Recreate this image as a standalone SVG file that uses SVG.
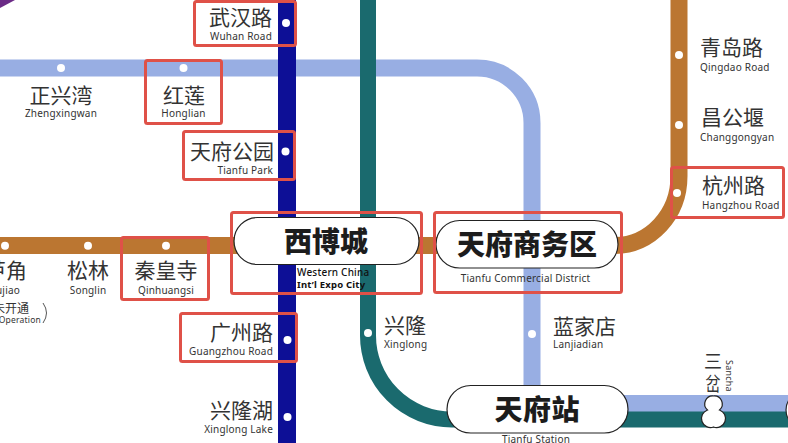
<svg xmlns="http://www.w3.org/2000/svg" width="788" height="443" viewBox="0 0 788 443">
<style>
text{font-family:"Noto Sans CJK SC","Noto Sans",sans-serif;fill:#333}
.z{font-size:21px}
.e{font-family:"Noto Sans","Noto Sans CJK SC",sans-serif;font-size:10px;letter-spacing:.2px}
.m{text-anchor:middle}
.r{text-anchor:end}
.b{font-size:28px;font-weight:900;fill:#1c1c1c;text-anchor:middle}
.line{fill:none;stroke-width:17}
.dot{fill:#fff}
.box{fill:none;stroke:#df5148;stroke-width:3;rx:2px}
.pill{fill:#fff;stroke:#222;stroke-width:1.2}
</style>
<rect width="788" height="443" fill="#fff"/>
<polygon points="0,0 15,0 0,8" fill="#6b2a86"/>
<g id="connectors">
<path class="line" stroke="#98aee3" d="M0,68H477A55,55 0 0 1 532,123V395"/>
<path class="line" stroke="#98aee3" d="M600,403.500H788"/>
<path class="line" stroke="#bb7631" d="M0,245.500H615C650,245 679,215 679,176V0"/>
<path class="line" stroke="#1a6a6e" style="stroke-width:16" d="M368,0V335A84,84 0 0 0 452,419.500H788"/>
<path class="line" stroke="#0d0f96" style="stroke-width:18" d="M287,0V443"/>
</g>
<g id="wuhan-road"><circle class="dot" cx="286" cy="23" r="4"/><text class="z r" x="272" y="25">武汉路</text><text class="e r" x="272" y="40">Wuhan Road</text><rect class="box" x="194.500" y="1.500" width="101" height="44"/></g>
<g id="zhengxingwan"><circle class="dot" cx="61" cy="68" r="4"/><text class="z m" x="61" y="103">正兴湾</text><text class="e m" x="61" y="117">Zhengxingwan</text></g>
<g id="honglian"><circle class="dot" cx="183.500" cy="68" r="4"/><text class="z m" x="184" y="103">红莲</text><text class="e m" x="183.500" y="117">Honglian</text><rect class="box" x="145.500" y="60.500" width="76" height="63"/></g>
<g id="tianfu-park"><circle class="dot" cx="285.500" cy="151.500" r="4"/><text class="z r" x="274" y="159">天府公园</text><text class="e r" x="273" y="174">Tianfu Park</text><rect class="box" x="183.500" y="131.500" width="111" height="48"/></g>
<g id="lujiao"><circle class="dot" cx="5" cy="245.700" r="4"/><text class="z r" x="27" y="278">芦角</text><text class="e r" x="20" y="294">Lujiao</text><text class="r" style="font-size:12px" x="29" y="313">未开通</text><text class="e r" style="font-size:8.500px" x="41" y="323">Operation</text><path d="M43,303Q50,313 43,323" fill="none" stroke="#2b2b2b" stroke-width=".8"/></g>
<g id="songlin"><circle class="dot" cx="88" cy="245.700" r="4"/><text class="z m" x="88" y="278">松林</text><text class="e m" x="88" y="294">Songlin</text></g>
<g id="qinhuangsi"><circle class="dot" cx="166" cy="245.700" r="4"/><text class="z m" x="166" y="278">秦皇寺</text><text class="e m" x="166" y="294">Qinhuangsi</text><rect class="box" x="121.500" y="237.500" width="87" height="62"/></g>
<g id="western-china"><rect class="pill" x="234" y="217.500" width="185" height="47" rx="23.500"/><text class="b" x="326" y="252">西博城</text><text class="e" style="font-weight:500;fill:#111" x="297" y="276">Western China</text><text class="e" style="font-size:9.500px;font-weight:700;fill:#111" x="297" y="288">Int’l Expo City</text><rect class="box" x="231.500" y="212.500" width="190" height="81"/></g>
<g id="tianfu-commercial"><rect class="pill" x="436" y="220.500" width="182" height="47.500" rx="23.700"/><text class="b" x="527" y="255">天府商务区</text><text class="e m" x="525.500" y="282">Tianfu Commercial District</text><rect class="box" x="434.500" y="212.500" width="187" height="80"/></g>
<g id="guangzhou-road"><circle class="dot" cx="287.500" cy="340" r="4"/><text class="z r" x="273" y="340">广州路</text><text class="e r" x="273" y="355">Guangzhou Road</text><rect class="box" x="180.500" y="313.500" width="116" height="48"/></g>
<g id="xinglong-lake"><circle class="dot" cx="287.500" cy="417" r="4"/><text class="z r" x="273" y="418">兴隆湖</text><text class="e r" x="273" y="433">Xinglong Lake</text></g>
<g id="xinglong"><circle class="dot" cx="368" cy="333" r="4"/><text class="z" x="384" y="333">兴隆</text><text class="e" x="384" y="348">Xinglong</text></g>
<g id="lanjiadian"><circle class="dot" cx="532" cy="334" r="4"/><text class="z" x="553" y="334">蓝家店</text><text class="e" x="553" y="348">Lanjiadian</text></g>
<g id="tianfu-station"><rect class="pill" x="447" y="385.500" width="181" height="47.500" rx="23.700"/><text class="b" x="537" y="420" textLength="85">天府站</text><text class="e m" x="536" y="443">Tianfu Station</text></g>
<g id="sancha"><path class="pill" d="M713.500,396a8,8 0 0 1 6,14a8,8 0 0 1 -6,17a8,8 0 0 1 -6,-17a8,8 0 0 1 6,-14z"/><text class="m" style="font-size:18px" x="713" y="368">三</text><text class="m" style="font-size:18px" transform="translate(713,391) scale(.85,1.1)">岔</text><text class="e" style="font-size:9px" transform="translate(726,360) rotate(90)">Sancha</text></g>
<g id="next-station"><rect class="pill" x="786" y="391" width="40" height="38" rx="19"/></g>
<g id="qingdao-road"><circle class="dot" cx="679" cy="55" r="4"/><text class="z" x="700" y="55">青岛路</text><text class="e" x="700" y="71">Qingdao Road</text></g>
<g id="changgongyan"><circle class="dot" cx="679" cy="125" r="4"/><text class="z" x="701" y="125">昌公堰</text><text class="e" x="700" y="141">Changgongyan</text></g>
<g id="hangzhou-road"><circle class="dot" cx="677" cy="193" r="4"/><text class="z" x="702" y="193">杭州路</text><text class="e" x="702" y="209">Hangzhou Road</text><rect class="box" x="671.500" y="167.500" width="112" height="50"/></g>
</svg>
